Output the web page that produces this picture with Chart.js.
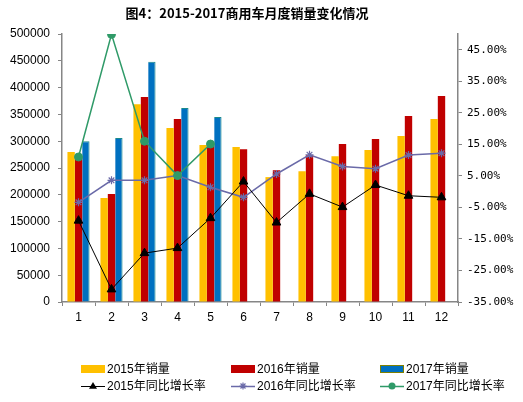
<!DOCTYPE html>
<html>
<head>
<meta charset="utf-8">
<script src="https://cdn.jsdelivr.net/npm/chart.js@4/dist/chart.umd.min.js"></script>
<style>
  html, body { margin: 0; padding: 0; background: #fff; }
  #wrap { width: 523px; height: 402px; }
</style>
</head>
<body>
<div id="wrap"><canvas id="c" width="523" height="402"></canvas></div>
<script>
// ---- data ----
const months = ['1', '2', '3', '4', '5', '6', '7', '8', '9', '10', '11', '12'];
const sales2015 = [280000, 194000, 369000, 324600, 293000, 289000, 233000, 244000, 272000, 283600, 309700, 341400];
const sales2016 = [268000, 201500, 382500, 341400, 291000, 285000, 246000, 274000, 295000, 304000, 347000, 384300];
const sales2017 = [300000, 306000, 448000, 362000, 345000];
const growth2015 = [-9.2, -31.0, -19.5, -17.9, -8.4, 3.2, -9.8, -0.7, -4.9, 2.1, -1.3, -1.8];
const growth2016 = [-3.4, 3.6, 3.6, 5.1, 1.4, -1.8, 5.6, 11.7, 8.0, 7.3, 11.6, 12.2];
const growth2017 = [11.0, 49.9, 16.0, 5.1, 15.1];
const pctTicks = [-35, -25, -15, -5, 5, 15, 25, 35, 45];

const TITLE = '图4：2015-2017商用车月度销量变化情况';
const FONT = "'Liberation Sans', 'Noto Sans CJK SC', sans-serif";
const AXIS = '#868686';
const C = { y15: '#FFC000', r16: '#C00000', b17: '#0070C0', teal: '#1A8A8A', blk: '#000000', pur: '#6A6AA8', grn: '#2F9A68' };

// small marker painter used by the legend
function marker(ctx, style, x, y, r, color) {
  ctx.save();
  ctx.fillStyle = color; ctx.strokeStyle = color; ctx.lineWidth = 1.2;
  ctx.beginPath();
  if (style === 'triangle') {
    ctx.moveTo(x, y - r); ctx.lineTo(x + r, y + r * 0.7); ctx.lineTo(x - r, y + r * 0.7); ctx.closePath(); ctx.fill();
  } else if (style === 'circle') {
    ctx.arc(x, y, r, 0, Math.PI * 2); ctx.fill();
  } else {
    for (let i = 0; i < 4; i++) {
      const a = i * Math.PI / 4;
      ctx.moveTo(x - r * Math.cos(a), y - r * Math.sin(a)); ctx.lineTo(x + r * Math.cos(a), y + r * Math.sin(a));
    }
    ctx.stroke();
  }
  ctx.restore();
}

// title + 3-column legend grid (Chart.js legend can't do columns)
const decor = {
  id: 'decor',
  afterDraw(chart) {
    const ctx = chart.ctx;
    ctx.save();
    ctx.fillStyle = '#000';
    ctx.font = "bold 13px 'Noto Sans CJK SC', sans-serif";
    ctx.textAlign = 'center'; ctx.textBaseline = 'middle';
    ctx.fillText(TITLE, 247, 13);

    const cols = [81, 231, 380], rows = [369, 386];
    ctx.font = '12px ' + FONT; ctx.textAlign = 'left';
    chart.data.datasets.forEach((ds, i) => {
      const x = cols[i % 3], y = rows[Math.floor(i / 3)];
      if (ds.type === 'bar') {
        ctx.fillStyle = ds.backgroundColor;
        ctx.fillRect(x, y - 4, 24, 8);
        if (ds.legendBorder) { ctx.strokeStyle = ds.legendBorder; ctx.lineWidth = 1; ctx.strokeRect(x + 0.5, y - 3.5, 23, 7); }
      } else {
        ctx.strokeStyle = ds.borderColor; ctx.lineWidth = ds.borderWidth;
        ctx.beginPath(); ctx.moveTo(x, y + 0.5); ctx.lineTo(x + 24, y + 0.5); ctx.stroke();
        marker(ctx, ds.pointStyle, x + 12, y, ds.pointStyle === 'triangle' ? 4 : 3.5, ds.borderColor);
      }
      ctx.fillStyle = '#000';
      ctx.fillText(ds.label, x + 26, y + 1);
    });
    ctx.restore();
  }
};

new Chart(document.getElementById('c'), {
  data: {
    labels: months,
    datasets: [
      { type: 'bar', label: '2015年销量', data: sales2015, backgroundColor: C.y15, yAxisID: 'y', order: 3 },
      { type: 'bar', label: '2016年销量', data: sales2016, backgroundColor: C.r16, yAxisID: 'y', order: 3 },
      { type: 'bar', label: '2017年销量', data: sales2017, backgroundColor: C.b17, borderColor: C.teal,
        borderWidth: { top: 1, right: 1, left: 0, bottom: 0 }, borderSkipped: false, legendBorder: '#7F7F00', yAxisID: 'y', order: 3 },
      { type: 'line', label: '2015年同比增长率', data: growth2015, borderColor: C.blk, backgroundColor: C.blk, borderWidth: 1,
        pointStyle: 'triangle', pointRadius: 5, pointBorderWidth: 1, tension: 0, yAxisID: 'y1', order: 1 },
      { type: 'line', label: '2016年同比增长率', data: growth2016, borderColor: C.pur, backgroundColor: C.pur, borderWidth: 1.5,
        pointStyle: 'star', pointRadius: 4, pointBorderWidth: 1.2, tension: 0, yAxisID: 'y1', order: 2 },
      { type: 'line', label: '2017年同比增长率', data: growth2017, borderColor: C.grn, backgroundColor: C.grn, borderWidth: 1.5,
        pointStyle: 'circle', pointRadius: 4, pointBorderWidth: 1, tension: 0, yAxisID: 'y1', order: 0 },
    ],
  },
  options: {
    responsive: false,
    animation: false,
    layout: { padding: { top: 34, left: 0, right: 0, bottom: 0 } },
    datasets: { bar: { categoryPercentage: 0.67, barPercentage: 1 } },
    plugins: { legend: { display: false }, title: { display: false }, tooltip: { enabled: false } },
    scales: {
      x: {
        offset: true,
        grid: { offset: true, drawOnChartArea: false, drawTicks: true, tickLength: 4, color: AXIS },
        border: { color: AXIS, width: 1.5 },
        ticks: { color: '#000', font: { family: FONT, size: 12 }, padding: 4, maxRotation: 0 },
        afterFit: (s) => { s.height = 100; },
      },
      y: {
        position: 'left', min: 0, max: 500000,
        grid: { drawOnChartArea: false, tickLength: 4, color: AXIS },
        border: { color: AXIS, width: 1.5 },
        ticks: { stepSize: 50000, color: '#000', font: { family: FONT, size: 12 }, padding: 8,
          callback: (v) => String(v) },
        afterFit: (s) => { s.width = 62; },
      },
      y1: {
        position: 'right', min: -35, max: 50,
        grid: { drawOnChartArea: false, tickLength: 4, color: AXIS },
        border: { color: AXIS, width: 1.5 },
        ticks: { color: '#000', font: { family: "'DejaVu Sans Mono', monospace", size: 11 }, padding: 5,
          callback: (v) => v.toFixed(2) + '%' },
        afterBuildTicks: (s) => { s.ticks = pctTicks.map((v) => ({ value: v })); },
        afterFit: (s) => { s.width = 65; },
      },
    },
  },
  plugins: [decor],
});
</script>
</body>
</html>
